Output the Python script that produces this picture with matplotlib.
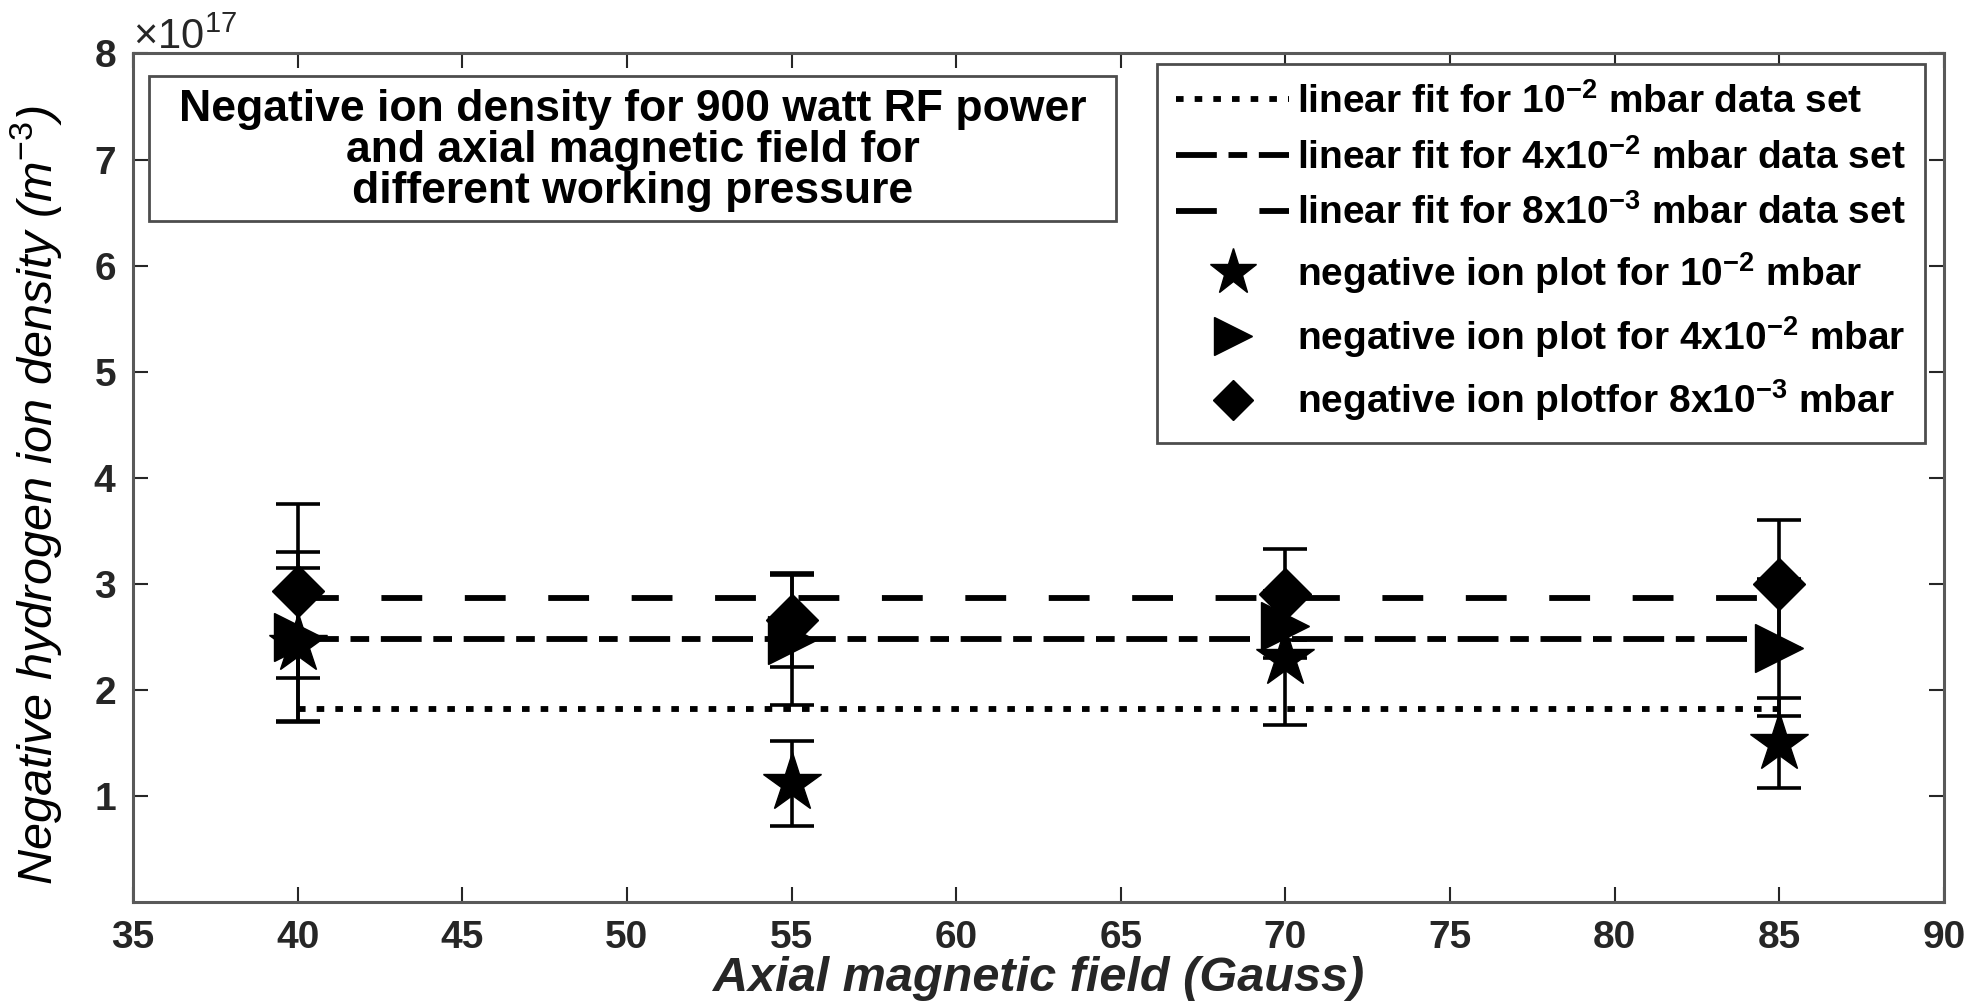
import numpy as np
import matplotlib
matplotlib.use("Agg")
from matplotlib import pyplot as plt
from matplotlib.patches import Rectangle

plt.rcParams['font.family'] = ['Liberation Sans', 'DejaVu Sans']
plt.rcParams['mathtext.fontset'] = 'custom'
plt.rcParams['mathtext.rm'] = 'Liberation Sans'
plt.rcParams['mathtext.it'] = 'Liberation Sans:italic'
plt.rcParams['mathtext.bf'] = 'Liberation Sans:bold'

# axial magnetic field (Gauss)
field = [40, 55, 70, 85]

# negative ion density in units of 1e17 m^-3
dens_1e2 = [2.43, 1.12, 2.30, 1.50]
err_1e2 = [0.72, 0.40, 0.63, 0.42]
dens_4e2 = [2.50, 2.47, 2.60, 2.40]
err_4e2 = [0.80, 0.61, 0.30, 0.65]
dens_8e3 = [2.93, 2.66, 2.90, 3.00]
err_8e3 = [0.82, 0.44, 0.43, 0.60]

# fitted (flat) levels, units of 1e17
fit_levels = [1.82, 2.48, 2.87]

scale = 1e17
ink = '0.15'

fig = plt.figure(figsize=(19.79, 10.08), dpi=100)
ax = fig.add_axes([0.0672, 0.105, 0.9151, 0.842])

fit_x = [field[0], field[-1]]
fit_labels = [r'linear fit for 10$^{\mathbf{-2}}$ mbar data set',
              r'linear fit for 4x10$^{\mathbf{-2}}$ mbar data set',
              r'linear fit for 8x10$^{\mathbf{-3}}$ mbar data set']
fit_dashes = [(1.3, 1.9), (7, 2.0, 3.2, 2.0), (7, 7.3)]
handles = []
for lvl, lab, dsh in zip(fit_levels, fit_labels, fit_dashes):
    ln, = ax.plot(fit_x, [lvl * scale, lvl * scale], color='k', lw=4.2,
                  dashes=dsh, dash_capstyle='butt', label=lab)
    handles.append(ln)

series = [
    (dens_1e2, err_1e2, '*', 44, r'negative ion plot for 10$^{\mathbf{-2}}$ mbar'),
    (dens_4e2, err_4e2, '>', 34, r'negative ion plot for 4x10$^{\mathbf{-2}}$ mbar'),
    (dens_8e3, err_8e3, 'D', 26, r'negative ion plotfor 8x10$^{\mathbf{-3}}$ mbar'),
]
for vals, errs, mk, ms, lab in series:
    y = np.array(vals) * scale
    e = np.array(errs) * scale
    ax.errorbar(field, y, yerr=e, fmt='none', ecolor='k', elinewidth=2.6,
                capsize=16, capthick=2.6)
for vals, errs, mk, ms, lab in series:
    y = np.array(vals) * scale
    mh, = ax.plot(field, y, linestyle='none', marker=mk, ms=ms, color='k',
                  label=lab)
    handles.append(mh)

ax.set_xlim(35, 90)
ax.set_ylim(0, 8 * scale)
ax.set_xticks(np.arange(35, 91, 5))
ax.set_yticks(np.arange(1, 9) * scale)
ax.ticklabel_format(axis='y', style='sci', scilimits=(0, 0), useMathText=True)
ax.yaxis.get_offset_text().set_fontsize(30)
ax.yaxis.get_offset_text().set_color(ink)

ax.tick_params(direction='in', top=True, right=True, length=11, width=1.5,
               color=ink, labelsize=28, labelcolor=ink)
ax.tick_params(axis='x', pad=13)
ax.tick_params(axis='y', pad=12)
for lbl in ax.get_xticklabels() + ax.get_yticklabels():
    lbl.set_fontweight('bold')
for sp in ax.spines.values():
    sp.set_linewidth(2.2)
    sp.set_color('0.35')

ax.set_xlabel('Axial magnetic field (Gauss)', fontsize=35, fontstyle='italic',
              fontweight='bold', color=ink, labelpad=0)
ax.set_ylabel(r'Negative hydrogen ion density (m$^{\mathit{-3}}$)', fontsize=35,
              fontstyle='italic', color='k', labelpad=6)
ax.yaxis.set_label_coords(-0.038, 0.48)

# note box top-left
ax.add_patch(Rectangle((0.0088, 0.802), 0.5342, 0.171, transform=ax.transAxes,
                       fill=False, edgecolor='0.3', lw=2))
ax.text(0.276, 0.886,
        'Negative ion density for 900 watt RF power\n'
        'and axial magnetic field for\n'
        'different working pressure',
        transform=ax.transAxes, ha='center', va='center', fontsize=32,
        fontweight='bold', linespacing=1.0, color='k')

leg = ax.legend(handles=handles, loc='upper right', bbox_to_anchor=(0.9895, 0.988),
                prop={'weight': 'bold', 'size': 28}, frameon=True,
                fancybox=False, edgecolor='0.3', framealpha=1, handlelength=2.9,
                handletextpad=0.2, labelspacing=0.46, borderpad=0.5,
                markerscale=0.8, borderaxespad=0)
leg.get_frame().set_linewidth(2)

fig.savefig('out.png', dpi=100)
